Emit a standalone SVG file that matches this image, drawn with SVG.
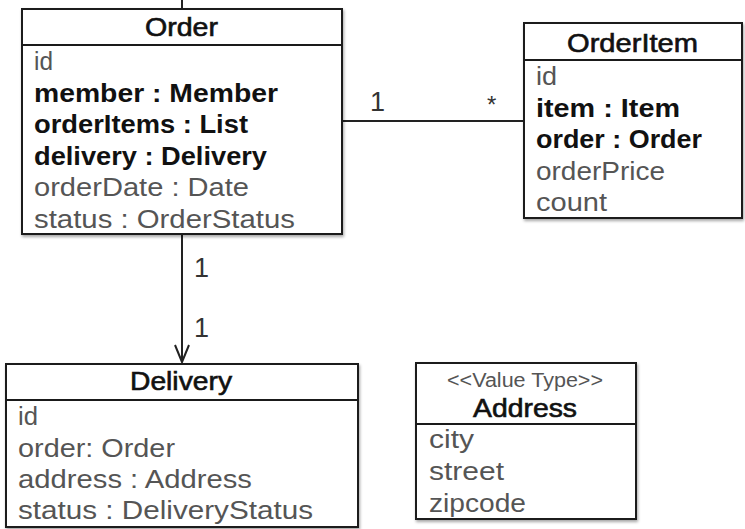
<svg xmlns="http://www.w3.org/2000/svg" width="745" height="529" viewBox="0 0 745 529">
<style>
text{font-family:"Liberation Sans",Arial,sans-serif;}
.box{fill:#fff;stroke:#1a1a1a;stroke-width:2;filter:url(#sh);}
.sep{stroke:#1a1a1a;stroke-width:2;}
.hd{font-size:25px;fill:#111;stroke:#111;stroke-width:0.6;text-anchor:middle;}
.b{font-size:25px;font-weight:bold;fill:#111;}
.r{font-size:25px;fill:#555;}
.st{font-size:20px;fill:#555;text-anchor:middle;}
.lbl{font-size:27px;fill:#333;}
.ast{font-size:24px;fill:#333;}
.ln{stroke:#222;stroke-width:2;fill:none;}
</style>
<defs>
<filter id="sh" x="-5%" y="-5%" width="115%" height="115%">
<feDropShadow dx="1" dy="2" stdDeviation="1.5" flood-color="#000" flood-opacity="0.35"/>
</filter>
</defs>
<rect width="745" height="529" fill="#fff"/>
<g id="connectors">
<line class="ln" x1="182" y1="0" x2="182" y2="9"/>
<line class="ln" x1="342" y1="121" x2="524" y2="121"/>
<line class="ln" x1="182" y1="234" x2="182" y2="362"/>
<polyline class="ln" points="175,345 182,362 189,345"/>
<text class="lbl" x="370" y="111">1</text>
<text class="ast" x="487" y="113">*</text>
<text class="lbl" x="194" y="277">1</text>
<text class="lbl" x="194" y="337">1</text>
</g>
<g id="order">
<rect class="box" x="22" y="9" width="320" height="225"/>
<line class="sep" x1="22" y1="45" x2="342" y2="45"/>
<text class="hd" x="181.5" y="36" textLength="73" lengthAdjust="spacingAndGlyphs">Order</text>
<text class="r" x="34" y="70" textLength="19" lengthAdjust="spacingAndGlyphs">id</text>
<text class="b" x="34" y="101.5" textLength="244" lengthAdjust="spacingAndGlyphs">member : Member</text>
<text class="b" x="34" y="133" textLength="214" lengthAdjust="spacingAndGlyphs">orderItems : List</text>
<text class="b" x="34" y="164.5" textLength="233" lengthAdjust="spacingAndGlyphs">delivery : Delivery</text>
<text class="r" x="34" y="196" textLength="215" lengthAdjust="spacingAndGlyphs">orderDate : Date</text>
<text class="r" x="34" y="227.5" textLength="261" lengthAdjust="spacingAndGlyphs">status : OrderStatus</text>
</g>
<g id="orderitem">
<rect class="box" x="524" y="23" width="218" height="195"/>
<line class="sep" x1="524" y1="60" x2="742" y2="60"/>
<text class="hd" x="632.5" y="52" textLength="131" lengthAdjust="spacingAndGlyphs">OrderItem</text>
<text class="r" x="536" y="85" textLength="21" lengthAdjust="spacingAndGlyphs">id</text>
<text class="b" x="536" y="116.6" textLength="144" lengthAdjust="spacingAndGlyphs">item : Item</text>
<text class="b" x="536" y="148.2" textLength="166" lengthAdjust="spacingAndGlyphs">order : Order</text>
<text class="r" x="536" y="179.8" textLength="129" lengthAdjust="spacingAndGlyphs">orderPrice</text>
<text class="r" x="536" y="211.4" textLength="71" lengthAdjust="spacingAndGlyphs">count</text>
</g>
<g id="delivery">
<rect class="box" x="6" y="364" width="352" height="163"/>
<line class="sep" x1="6" y1="400" x2="358" y2="400"/>
<text class="hd" x="181" y="390" textLength="102" lengthAdjust="spacingAndGlyphs">Delivery</text>
<text class="r" x="18" y="425" textLength="20" lengthAdjust="spacingAndGlyphs">id</text>
<text class="r" x="18" y="456.5" textLength="157" lengthAdjust="spacingAndGlyphs">order: Order</text>
<text class="r" x="18" y="488" textLength="234" lengthAdjust="spacingAndGlyphs">address : Address</text>
<text class="r" x="18" y="518.5" textLength="295" lengthAdjust="spacingAndGlyphs">status : DeliveryStatus</text>
</g>
<g id="address">
<rect class="box" x="416" y="363" width="220" height="156"/>
<line class="sep" x1="416" y1="424" x2="636" y2="424"/>
<text class="st" x="525" y="387" textLength="156" lengthAdjust="spacingAndGlyphs">&lt;&lt;Value Type&gt;&gt;</text>
<text class="hd" x="525" y="417" textLength="104" lengthAdjust="spacingAndGlyphs">Address</text>
<text class="r" x="429" y="448.3" textLength="45" lengthAdjust="spacingAndGlyphs">city</text>
<text class="r" x="429" y="480" textLength="75" lengthAdjust="spacingAndGlyphs">street</text>
<text class="r" x="429" y="511.5" textLength="97" lengthAdjust="spacingAndGlyphs">zipcode</text>
</g>
</svg>
